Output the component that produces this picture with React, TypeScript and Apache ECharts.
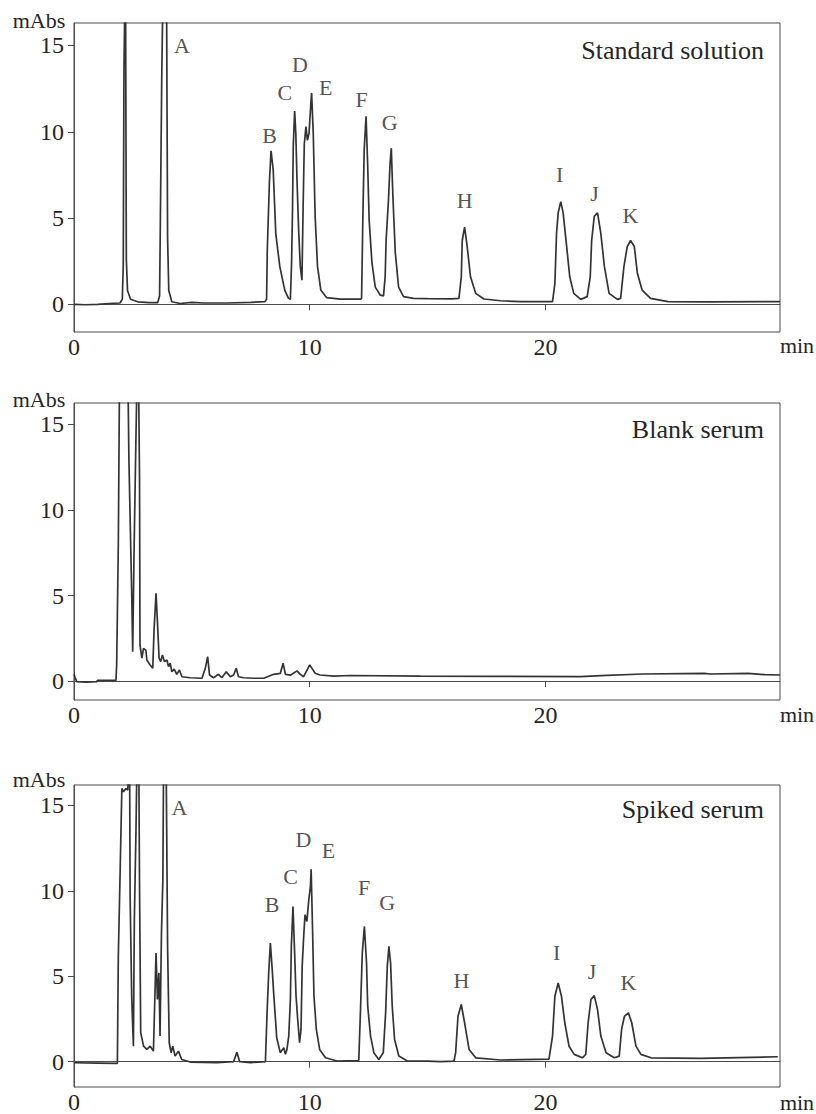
import React, { useEffect, useRef } from "react";
import * as echarts from "echarts";

// ---------- data ----------
const panelTitles = ["Standard solution", "Blank serum", "Spiked serum"];
const xTicks = [0, 10, 20];
const yTicks = [0, 5, 10, 15];
const peakNames = ["A", "B", "C", "D", "E", "F", "G", "H", "I", "J", "K"];

// [retention time (min), absorbance (mAbs)]
const standardTrace: number[][] = [
  [0, 0.0], [0.5, -0.02], [1.0, 0.0], [1.5, 0.05], [1.95, 0.08], [2.05, 0.3], [2.09, 2.3], [2.12, 13.6],
  [2.15, 16.8], [2.19, 16.8], [2.22, 2.6], [2.27, 0.8], [2.4, 0.3], [2.7, 0.15], [3.2, 0.1], [3.55, 0.1],
  [3.63, 0.5], [3.66, 4.3], [3.72, 12.9], [3.76, 16.8], [3.93, 16.8], [3.97, 3.9], [4.02, 0.8], [4.15, 0.15],
  [4.5, 0.05], [5.0, 0.12], [5.5, 0.08], [6.5, 0.08], [7.5, 0.12], [8.1, 0.16],
  [8.17, 0.3], [8.2, 3.15], [8.29, 7.1], [8.36, 8.9], [8.45, 7.8], [8.56, 4.1], [8.73, 2.2], [8.94, 0.83],
  [9.1, 0.35], [9.18, 0.3],
  [9.23, 2.4], [9.27, 5.5], [9.3, 9.1], [9.36, 11.2], [9.41, 9.9], [9.46, 7.2], [9.53, 4.3], [9.6, 2.2], [9.67, 1.4],
  [9.72, 5.7], [9.77, 9.3], [9.84, 10.3], [9.9, 9.5], [9.97, 9.9],
  [10.04, 11.45], [10.08, 12.25], [10.15, 9.9], [10.23, 5.1], [10.33, 2.2], [10.47, 0.83], [10.72, 0.39],
  [11.3, 0.3], [12.15, 0.3],
  [12.2, 0.35], [12.25, 4.7], [12.31, 8.95], [12.39, 10.9], [12.46, 8.0], [12.52, 4.9], [12.64, 2.4],
  [12.78, 1.0], [12.99, 0.54], [13.13, 0.49],
  [13.2, 1.6], [13.24, 3.7], [13.34, 6.05], [13.41, 8.2], [13.46, 9.05], [13.53, 6.2], [13.63, 3.0],
  [13.77, 1.0], [13.98, 0.45], [14.4, 0.35], [15.0, 0.33], [16.0, 0.32], [16.33, 0.35],
  [16.43, 1.6], [16.47, 3.7], [16.57, 4.47], [16.68, 3.35], [16.82, 1.6], [17.04, 0.64], [17.39, 0.31],
  [18.1, 0.21], [18.95, 0.16], [20.3, 0.16],
  [20.4, 1.2], [20.47, 4.1], [20.54, 5.3], [20.65, 5.95], [20.75, 5.3], [20.9, 3.35], [21.03, 1.6],
  [21.2, 0.64], [21.5, 0.29], [21.77, 0.45],
  [21.9, 1.6], [21.96, 3.7], [22.07, 5.1], [22.21, 5.3], [22.35, 4.1], [22.5, 2.2], [22.7, 0.64],
  [23.05, 0.29], [23.19, 0.35],
  [23.33, 2.2], [23.47, 3.35], [23.61, 3.7], [23.77, 3.35], [23.9, 1.8], [24.1, 0.83], [24.46, 0.35],
  [25.2, 0.16], [27.0, 0.15], [29.95, 0.16],
];

const blankTrace: number[][] = [
  [0, 0.4], [0.05, 0.2], [0.12, -0.03], [0.5, -0.05], [0.96, -0.03], [1.0, 0.05], [1.78, 0.05],
  [1.81, 0.95], [1.88, 7.95], [1.93, 17.5], [2.29, 17.5], [2.33, 12.9], [2.45, 5.0], [2.49, 1.72],
  [2.55, 7.76], [2.63, 14.4], [2.67, 17.5], [2.74, 17.5], [2.78, 11.85], [2.8, 2.1], [2.88, 1.34],
  [2.95, 1.92], [3.05, 1.8], [3.09, 1.24], [3.23, 0.95], [3.34, 0.75], [3.4, 3.1], [3.48, 5.13],
  [3.54, 3.48], [3.61, 1.34], [3.68, 1.14], [3.75, 1.53], [3.84, 1.14], [3.94, 1.24], [4.01, 0.85],
  [4.08, 1.05], [4.15, 0.55], [4.25, 0.7], [4.36, 0.4], [4.47, 0.65], [4.58, 0.26], [4.93, 0.2],
  [5.43, 0.17], [5.57, 0.75], [5.67, 1.43], [5.75, 0.36], [5.92, 0.2], [6.13, 0.4], [6.27, 0.2],
  [6.46, 0.55], [6.63, 0.26], [6.77, 0.36], [6.88, 0.75], [6.98, 0.26], [7.2, 0.2], [7.62, 0.17],
  [8.05, 0.17], [8.47, 0.4], [8.75, 0.45], [8.87, 1.05], [8.97, 0.4], [9.18, 0.35], [9.46, 0.6],
  [9.6, 0.4], [9.74, 0.26], [10.0, 0.95], [10.23, 0.46], [10.44, 0.36], [11.02, 0.3], [11.73, 0.33],
  [14.7, 0.3], [18.0, 0.28], [21.5, 0.26], [22.35, 0.32], [24.13, 0.42], [26.74, 0.46], [27.0, 0.42],
  [28.59, 0.46], [29.3, 0.38], [29.95, 0.36],
];

const spikedTrace: number[][] = [
  [0, -0.06], [1.0, -0.08], [1.84, -0.1], [1.88, 6.17], [1.95, 10.65], [2.03, 16.0], [2.1, 15.8],
  [2.2, 16.0], [2.28, 15.9], [2.33, 17.5], [2.36, 17.5], [2.38, 9.78], [2.45, 3.64], [2.52, 0.91],
  [2.56, 8.3], [2.63, 13.6], [2.67, 17.5], [2.75, 17.5], [2.78, 10.26], [2.83, 1.7], [2.95, 0.91],
  [3.09, 0.72], [3.23, 0.91], [3.37, 0.62], [3.48, 6.37], [3.54, 3.64], [3.6, 5.2], [3.65, 1.5],
  [3.71, 7.53], [3.77, 10.65], [3.8, 17.5], [3.91, 17.5], [3.97, 6.75], [4.04, 1.11], [4.12, 0.53],
  [4.19, 0.91], [4.29, 0.33], [4.43, 0.62], [4.57, 0.13], [4.93, -0.02], [6.06, -0.05], [6.77, 0.0],
  [6.91, 0.56], [7.03, 0.0], [7.48, -0.05], [8.12, 0.0],
  [8.19, 2.86], [8.26, 5.2], [8.33, 6.95], [8.4, 5.58], [8.47, 4.03], [8.6, 1.4], [8.75, 0.53],
  [8.9, 0.82], [8.97, 0.43], [9.03, 0.7],
  [9.11, 1.5], [9.18, 3.64], [9.22, 6.75], [9.29, 9.09], [9.36, 6.37], [9.42, 3.83], [9.49, 2.47],
  [9.57, 1.11], [9.63, 1.89],
  [9.68, 5.58], [9.74, 7.24], [9.8, 8.6], [9.88, 8.21], [9.96, 9.48], [10.03, 10.26], [10.06, 11.27],
  [10.12, 7.73], [10.18, 3.83], [10.28, 1.89], [10.42, 0.72], [10.67, 0.23], [11.16, 0.04], [12.08, 0.07],
  [12.15, 2.86], [12.23, 6.37], [12.32, 7.92], [12.41, 5.78], [12.46, 3.25], [12.58, 1.5], [12.72, 0.53],
  [12.93, 0.13], [13.12, 0.53],
  [13.22, 2.86], [13.29, 5.58], [13.36, 6.75], [13.43, 5.78], [13.5, 3.25], [13.6, 1.3], [13.78, 0.33],
  [14.14, 0.04], [15.0, 0.04], [15.55, 0.0], [16.12, 0.04],
  [16.19, 0.53], [16.29, 2.66], [16.43, 3.35], [16.57, 2.28], [16.76, 0.72], [17.04, 0.23], [18.1, 0.1],
  [20.15, 0.15],
  [20.3, 1.5], [20.4, 3.83], [20.54, 4.61], [20.68, 3.83], [20.82, 2.28], [21.0, 0.91], [21.22, 0.43],
  [21.57, 0.23], [21.71, 0.43],
  [21.81, 2.28], [21.93, 3.64], [22.07, 3.87], [22.21, 3.05], [22.35, 1.5], [22.57, 0.53], [22.92, 0.23],
  [23.13, 0.33],
  [23.23, 1.89], [23.35, 2.66], [23.52, 2.86], [23.66, 2.28], [23.84, 0.91], [24.05, 0.43], [24.48, 0.23],
  [26.6, 0.2], [29.86, 0.29],
];

// peak-letter anchor points in data coordinates (min, mAbs)
const standardLabelPos: number[][] = [
  [4.58, 15.0], [8.3, 9.77], [8.94, 12.27], [9.58, 13.9], [10.68, 12.56], [12.2, 11.86], [13.39, 10.52],
  [16.57, 5.99], [20.6, 7.5], [22.08, 6.4], [23.6, 5.17],
];
const spikedLabelPos: number[][] = [
  [4.47, 14.9], [8.4, 9.19], [9.19, 10.86], [9.73, 13.0], [10.79, 12.35], [12.31, 10.2], [13.29, 9.33],
  [16.44, 4.76], [20.48, 6.37], [21.98, 5.29], [23.52, 4.66],
];

const traces = [standardTrace, blankTrace, spikedTrace];
const labelSets: (number[][] | null)[] = [standardLabelPos, null, spikedLabelPos];

// ---------- layout ----------
const X_MAX = 29.95;
const gridBoxes = [
  { left: 74, top: 23, width: 706, height: 309 },
  { left: 74, top: 403, width: 706, height: 297 },
  { left: 74, top: 785, width: 706, height: 303 },
];
const yRanges = [
  [-1.6, 16.3],
  [-1.1, 16.25],
  [-1.48, 16.2],
];
const titleCenters = [50, 429, 809];
const unitCenters = [20, 399, 779];
const minCenters = [345, 714, 1102];

const FONT = "'Liberation Serif', 'Times New Roman', serif";
const INK = "#262626";
const AXIS = "#4a4a4a";

export default function App() {
  const ref = useRef<HTMLDivElement>(null);

  useEffect(() => {
    if (!ref.current) return;
    const chart = echarts.init(ref.current, undefined, { renderer: "svg" });

    const grid = gridBoxes.map((g) => ({
      ...g,
      show: true,
      borderColor: AXIS,
      borderWidth: 1,
      backgroundColor: "transparent",
      containLabel: false,
    }));

    const xAxis = gridBoxes.map((_, i) => ({
      type: "value",
      gridIndex: i,
      min: 0,
      max: X_MAX,
      axisLine: { show: true, lineStyle: { color: AXIS, width: 1 } },
      axisTick: { show: true, inside: false, length: 6, customValues: xTicks, lineStyle: { color: AXIS } },
      axisLabel: {
        show: true,
        customValues: xTicks,
        fontFamily: FONT,
        fontSize: 24,
        color: INK,
        margin: 3,
      },
      splitLine: { show: false },
    }));

    const yAxis = gridBoxes.map((_, i) => ({
      type: "value",
      gridIndex: i,
      min: yRanges[i][0],
      max: yRanges[i][1],
      axisLine: { show: true, onZero: false, lineStyle: { color: AXIS, width: 1 } },
      axisTick: { show: true, inside: false, length: 6, customValues: yTicks, lineStyle: { color: AXIS } },
      axisLabel: {
        show: true,
        customValues: yTicks,
        fontFamily: FONT,
        fontSize: 24,
        color: INK,
        margin: 10,
      },
      splitLine: { show: false },
    }));

    const series: any[] = [];
    traces.forEach((tr, i) => {
      series.push({
        type: "line",
        xAxisIndex: i,
        yAxisIndex: i,
        data: tr,
        showSymbol: false,
        symbol: "none",
        clip: true,
        silent: true,
        lineStyle: { color: "#333333", width: 1.7 },
      });
      const pos = labelSets[i];
      if (pos) {
        series.push({
          type: "scatter",
          xAxisIndex: i,
          yAxisIndex: i,
          symbolSize: 1,
          silent: true,
          itemStyle: { color: "rgba(0,0,0,0)" },
          data: pos.map((p, k) => ({ name: peakNames[k], value: p })),
          label: {
            show: true,
            position: "inside",
            formatter: "{b}",
            fontFamily: FONT,
            fontSize: 22,
            color: INK,
          },
        });
      }
    });

    const graphic: any[] = [];
    panelTitles.forEach((t, i) => {
      graphic.push({
        type: "text",
        x: 764,
        y: titleCenters[i],
        style: { text: t, font: `26px ${FONT}`, fill: INK, align: "right", verticalAlign: "middle" },
      });
      graphic.push({
        type: "text",
        x: 39,
        y: unitCenters[i],
        style: { text: "mAbs", font: `22px ${FONT}`, fill: INK, align: "center", verticalAlign: "middle" },
      });
      graphic.push({
        type: "text",
        x: 797,
        y: minCenters[i],
        style: { text: "min", font: `22px ${FONT}`, fill: INK, align: "center", verticalAlign: "middle" },
      });
    });

    chart.setOption({
      animation: false,
      backgroundColor: "#ffffff",
      grid,
      xAxis,
      yAxis,
      series,
      graphic,
    });

    return () => chart.dispose();
  }, []);

  return (
    <div
      ref={ref}
      style={{ position: "absolute", left: 0, top: 0, width: 816, height: 1114 }}
    />
  );
}
